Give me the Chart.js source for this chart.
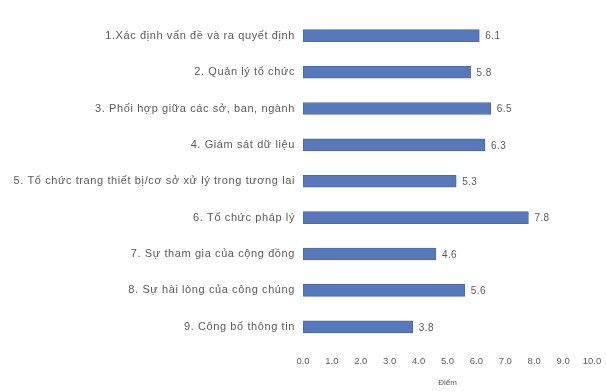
<!DOCTYPE html>
<html>
<head>
<meta charset="utf-8">
<script src="https://cdn.jsdelivr.net/npm/chart.js@4"></script>
<style>
  html, body { margin: 0; padding: 0; background: #fff; }
  #wrap { width: 606px; height: 391px; }
</style>
</head>
<body>
<div id="wrap"><canvas id="scoreChart" width="606" height="391"></canvas></div>
<script>
// criteria and their scores (0-10)
const criteria = [
  "1.Xác định vấn đề và ra quyết định",
  "2. Quản lý tổ chức",
  "3. Phối hợp giữa các sở, ban, ngành",
  "4. Giám sát dữ liệu",
  "5. Tổ chức trang thiết bị/cơ sở xử lý trong tương lai",
  "6. Tổ chức pháp lý",
  "7. Sự tham gia của cộng đồng",
  "8. Sự hài lòng của công chúng",
  "9. Công bố thông tin"
];
const scores = [6.1, 5.8, 6.5, 6.3, 5.3, 7.8, 4.6, 5.6, 3.8];
const scoreTicks = [0, 1, 2, 3, 4, 5, 6, 7, 8, 9, 10];
const axisTitle = "Điểm";

const textColor = "#5a5a5a";
const fontFamily = "'Liberation Sans', Arial, sans-serif";

// writes the score just past the end of each bar
const valueLabels = {
  id: "valueLabels",
  afterDatasetsDraw(chart) {
    const { ctx } = chart;
    const meta = chart.getDatasetMeta(0);
    ctx.save();
    ctx.font = "10px " + fontFamily;
    ctx.letterSpacing = "0.4px";
    ctx.fillStyle = textColor;
    ctx.textAlign = "left";
    ctx.textBaseline = "middle";
    meta.data.forEach((bar, i) => {
      ctx.fillText(scores[i].toFixed(1), bar.x + 6, bar.y + 1);
    });
    ctx.restore();
  }
};

const chart = new Chart(document.getElementById("scoreChart"), {
  type: "bar",
  data: {
    labels: criteria,
    datasets: [{
      data: scores,
      backgroundColor: "#5779bb",
      borderColor: "#4869a8",
      borderWidth: 1,
      borderSkipped: false,
      barThickness: 12
    }]
  },
  options: {
    indexAxis: "y",
    responsive: false,
    animation: false,
    layout: { padding: { top: 17.5, right: 14, bottom: 3, left: 0 } },
    plugins: {
      legend: { display: false },
      tooltip: { enabled: false }
    },
    scales: {
      x: {
        min: 0,
        max: 10,
        afterBuildTicks(scale) {
          scale.ticks = scoreTicks.map(v => ({ value: v }));
        },
        afterFit(scale) {
          // let the layout padding alone decide the right edge
          scale.paddingLeft = 0;
          scale.paddingRight = 0;
        },
        grid: { display: false, drawTicks: false },
        border: { display: false },
        ticks: {
          padding: 11,
          color: textColor,
          font: { family: fontFamily, size: 9.5 },
          callback: v => Number(v).toFixed(1)
        },
        title: {
          display: true,
          text: axisTitle,
          color: textColor,
          padding: { top: 0, bottom: 0 },
          font: { family: fontFamily, size: 8 }
        }
      },
      y: {
        grid: { display: false, drawTicks: false },
        border: { display: false },
        afterFit(scale) {
          scale.width = 303;
          // category names are set slightly letter-spaced
          if (!scale._spaced) {
            const drawLabels = scale.drawLabels;
            scale.drawLabels = function (area) {
              this.ctx.save();
              this.ctx.letterSpacing = "0.6px";
              drawLabels.call(this, area);
              this.ctx.restore();
            };
            scale._spaced = true;
          }
        },
        ticks: {
          padding: 8,
          color: textColor,
          font: { family: fontFamily, size: 11 }
        }
      }
    }
  },
  plugins: [valueLabels]
});
</script>
</body>
</html>
